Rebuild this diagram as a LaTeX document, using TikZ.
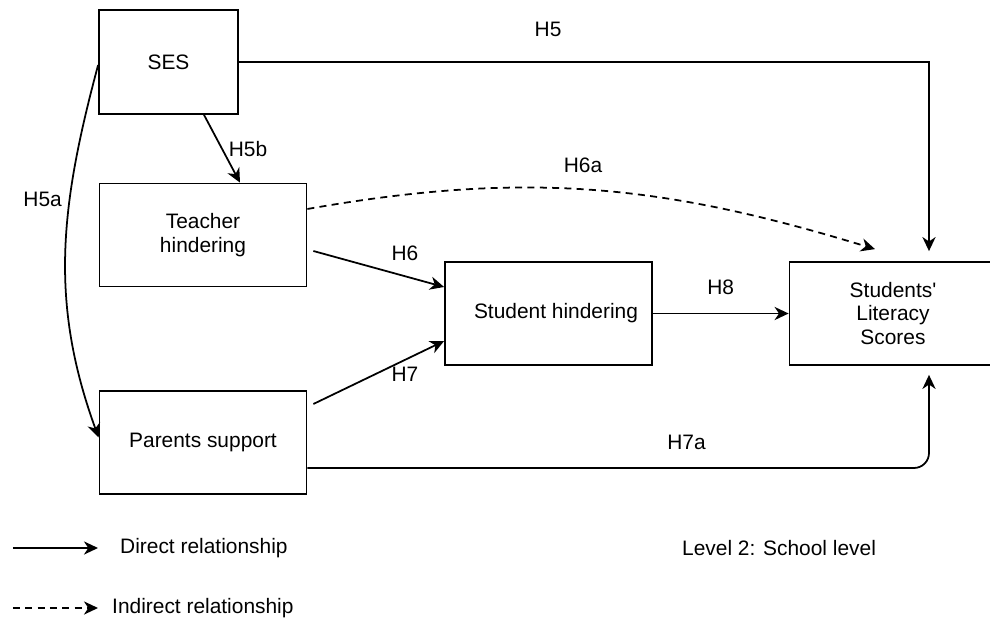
\documentclass[tikz,border=0pt]{standalone}
\usepackage{fontspec}
\setmainfont{Liberation Sans}[Ligatures=TeXOff]
\usepackage{tikz}
\usetikzlibrary{arrows.meta,calc,positioning}
\tikzset{%
	box/.style       = {draw, rectangle, line width=1pt, minimum width=4.14cm, minimum height=2.06cm, text centered, align=center},
	arrow/.style     = {line width=1pt, -{Stealth[length=8pt, width=7.5pt, inset=2.5pt]}},
	dasharrow/.style = {arrow, dash pattern=on 4pt off 3pt},
	hlabel/.style    = {inner sep=2pt},
}
\begin{document}
\begin{tikzpicture}[font=\fontsize{11.9}{13.3}\selectfont]
	\useasboundingbox (0,0) rectangle (19.8,12.4);
	\node[box, minimum width=2.78cm, minimum height=2.08cm] (ses) at (3.37,11.16) {SES};
	\node[box] (teacher) at (4.06,7.70) {Teacher\\hindering};
	\node[box] (parents) at (4.06,3.55) {Parents support};
	\node[box] (student) at (10.97,6.13) {\hspace*{0.3cm}Student hindering};
	\node[box] (literacy) at (17.86,6.13) {Students'\\Literacy\\Scores};
	\draw[arrow] (ses.east) -| ([xshift=0.72cm, yshift=0.2cm]literacy.north) node[hlabel, pos=0.224, above=0.42cm] {H5};
	\draw[arrow] ([xshift=0.71cm]ses.south) -- ([xshift=0.74cm]teacher.north) node[hlabel, midway, right=0.05cm] {H5b};
	\draw[arrow] ([yshift=-0.06cm]ses.west) to[out=255, in=110] node[hlabel, pos=0.35, left=0.07cm] {H5a} ([yshift=0.1cm]parents.west);
	\draw[dasharrow] ([yshift=0.52cm]teacher.east) to[out=10, in=163] node[hlabel, pos=0.48, above=0.24cm] {H6a} ([shift={(-0.36,0.24)}]literacy.north);
	\draw[arrow] ([shift={(0.12,-0.32)}]teacher.east) -- ([yshift=0.53cm]student.west) node[hlabel, pos=0.7, above=0.22cm] {H6};
	\draw[arrow] ([shift={(0.12,0.77)}]parents.east) -- ([yshift=-0.55cm]student.west) node[hlabel, pos=0.7, below=0.06cm] {H7};
	\draw[arrow] (student.east) -- (literacy.west) node[hlabel, midway, above=0.29cm] {H8};
	\draw[arrow, rounded corners=0.3cm] ([yshift=-0.51cm]parents.east) -| ([xshift=0.72cm, yshift=-0.18cm]literacy.south) node[hlabel, pos=0.305, above=0.28cm] {H7a};
	\coordinate (d1) at (0.26,1.44);
	\coordinate (d2) at (1.96,1.44);
	\coordinate (i1) at (0.26,0.24);
	\coordinate (i2) at (1.96,0.24);
	\draw[arrow] (d1) -- (d2);
	\draw[dasharrow] (i1) -- (i2);
	\node[right] (direct) at (2.28,1.44) {Direct relationship};
	\node[right] (indirect) at (2.12,0.24) {Indirect relationship};
	\node[right] (level) at (13.52,1.44) {Level 2: School level};
\end{tikzpicture}
\end{document}
